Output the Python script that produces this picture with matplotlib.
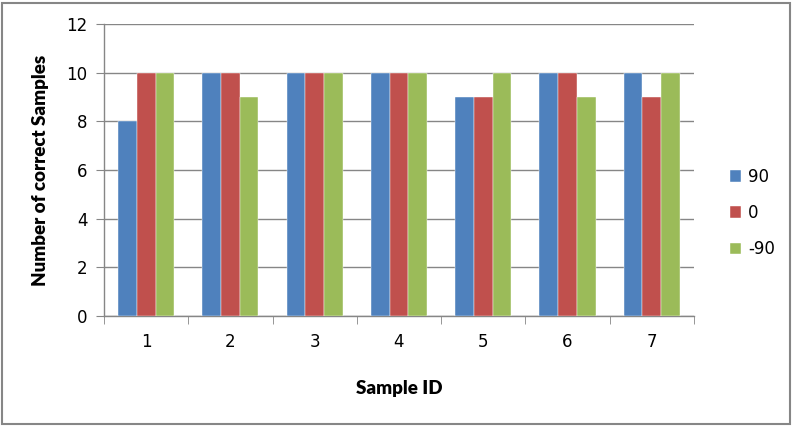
import matplotlib
matplotlib.use("Agg")
import matplotlib.pyplot as plt
import numpy as np

categories = ["1", "2", "3", "4", "5", "6", "7"]
series_names = ["90", "0", "-90"]
s90 = [8, 10, 10, 10, 9, 10, 10]
s0 = [10, 10, 10, 10, 9, 10, 9]
sm90 = [10, 9, 10, 10, 10, 9, 10]
colors = ["#4F81BD", "#C0504D", "#9BBB59"]

fig = plt.figure(figsize=(7.94, 4.26), dpi=100)
ax = fig.add_axes([0.131, 0.258, 0.743, 0.686])

x = np.arange(len(categories))
w = 0.222
for i, (vals, name, c) in enumerate(zip([s90, s0, sm90], series_names, colors)):
    ax.bar(x + (i - 1) * w, vals, width=w, color=c, label=name, zorder=3,
           edgecolor="white", linewidth=0.3)

ax.set_xlim(-0.5, len(categories) - 0.5)
ax.set_ylim(0, 12)
ax.set_yticks(range(0, 13, 2))
ax.set_xticks(x)
ax.set_xticklabels(categories)
ax.set_xticks(np.arange(-0.5, len(categories), 1), minor=True)
ax.tick_params(axis="x", which="major", length=0, pad=12, labelsize=12)
ax.tick_params(axis="x", which="minor", length=6, color="#868686", direction="out")
ax.tick_params(axis="y", length=6, color="#868686", labelsize=12, pad=6)
ax.grid(axis="y", color="#868686", linewidth=1, zorder=0)
for s in ["top", "right"]:
    ax.spines[s].set_visible(False)
for s in ["left", "bottom"]:
    ax.spines[s].set_color("#868686")
    ax.spines[s].set_linewidth(1)

lab_font = dict(family=["Lato", "DejaVu Sans"], fontweight="heavy", fontsize=13.5)
ax.set_xlabel("Sample ID", labelpad=21, **lab_font)
ax.set_ylabel("Number of correct Samples", labelpad=12, **lab_font)

leg = fig.legend(loc="center left", bbox_to_anchor=(0.9, 0.5), frameon=False,
                 fontsize=12, handlelength=0.7, handleheight=0.7, handletextpad=0.4,
                 labelspacing=1.1)

border = plt.Rectangle((0.003, 0.004), 0.992, 0.99, transform=fig.transFigure,
                       fill=False, edgecolor="#868686", linewidth=1.5)
fig.patches.append(border)

fig.savefig("out.png", dpi=100)
